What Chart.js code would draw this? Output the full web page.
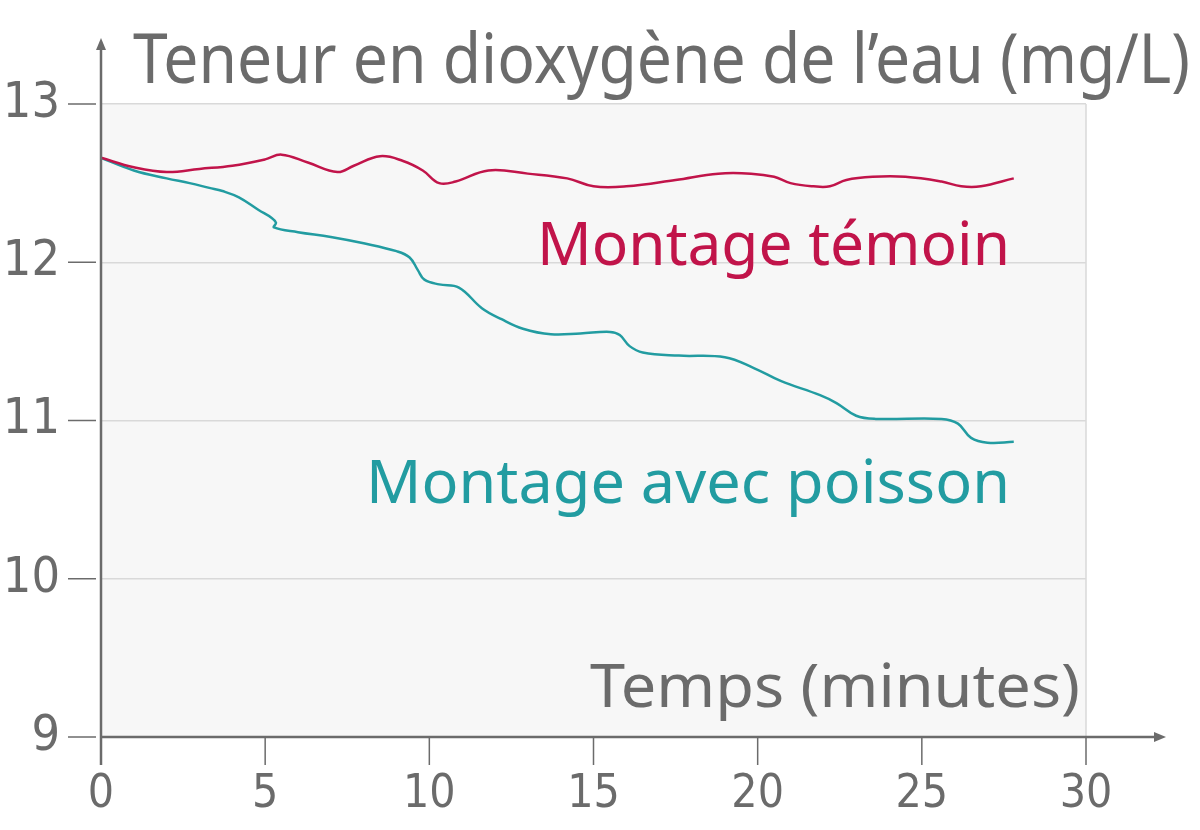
<!DOCTYPE html>
<html>
<head>
<meta charset="utf-8">
<script src="https://cdn.jsdelivr.net/npm/chart.js@4.4.1/dist/chart.umd.min.js"></script>
<style>
  html, body { margin: 0; padding: 0; background: #fff; }
  #wrap { width: 1200px; height: 830px; }
</style>
</head>
<body>
<div id="wrap"><canvas id="chart"></canvas></div>
<script>
// Values
const timeTemoin = [0, 1, 2, 3, 4, 5, 5.5, 6.3, 7.2, 7.7, 8.5, 9.2, 9.8, 10.3, 10.8, 11.8, 13, 14.2, 15, 16, 17.5, 18.8, 19.8, 20.5, 21, 21.7, 22.2, 22.7, 23.5, 24.5, 25.6, 26.2, 26.8, 27.8];
const o2Temoin = [12.66, 12.60, 12.57, 12.59, 12.61, 12.65, 12.68, 12.63, 12.57, 12.61, 12.67, 12.64, 12.58, 12.50, 12.51, 12.58, 12.56, 12.53, 12.48, 12.48, 12.52, 12.56, 12.56, 12.54, 12.50, 12.48, 12.48, 12.52, 12.54, 12.54, 12.51, 12.48, 12.48, 12.53];

const timePoisson = [0, 1, 2, 2.7, 3.3, 3.7, 4.2, 4.8, 5.2, 5.33, 5.27, 6, 7, 8, 9, 9.4, 9.65, 9.85, 10.3, 10.9, 11.6, 12.2, 12.85, 13.7, 14.6, 15.5, 15.8, 16.1, 16.5, 17.6, 19, 19.9, 20.7, 21.9, 22.4, 23, 23.6, 25.6, 26.1, 26.5, 27, 27.8];
const o2Poisson = [12.66, 12.58, 12.53, 12.50, 12.47, 12.45, 12.41, 12.33, 12.28, 12.25, 12.22, 12.19, 12.16, 12.12, 12.07, 12.03, 11.95, 11.89, 11.86, 11.84, 11.71, 11.64, 11.58, 11.545, 11.55, 11.56, 11.54, 11.47, 11.43, 11.41, 11.40, 11.33, 11.25, 11.16, 11.11, 11.03, 11.01, 11.01, 10.98, 10.89, 10.86, 10.865];

const xTicks = [0, 5, 10, 15, 20, 25, 30];
const yTicks = [9, 10, 11, 12, 13];

const yTitle = 'Teneur en dioxygène de l\u2019eau (mg/L)';
const xTitle = 'Temps (minutes)';
const labelTemoin = 'Montage témoin';
const labelPoisson = 'Montage avec poisson';

const RED = '#c1144a';
const TEAL = '#229ca1';
const GREY = '#6b6b6b';
const TEXT_FONT = '"Noto Sans", "Open Sans", sans-serif';
const TICK_FONT = '"DejaVu Sans Condensed", "Liberation Sans Narrow", sans-serif';

function toPoints(xs, ys) {
    return xs.map((x, i) => ({ x: x, y: ys[i] }));
}

// Draw text so that it spans left..right with the given baseline and font size
function fitText(ctx, text, left, right, baseline, size, color) {
    ctx.save();
    ctx.font = `${size}px ${TEXT_FONT}`;
    ctx.fillStyle = color;
    ctx.textBaseline = 'alphabetic';
    ctx.textAlign = 'left';
    const w = ctx.measureText(text).width;
    ctx.translate(left, baseline);
    ctx.scale((right - left) / w, 1);
    ctx.fillText(text, 0, 0);
    ctx.restore();
}

// Background, axes with arrows, tick marks and text labels
const decorPlugin = {
    id: 'decor',
    beforeDraw(chart) {
        const { ctx, chartArea: a } = chart;
        ctx.save();
        ctx.fillStyle = '#f7f7f7';
        ctx.fillRect(a.left, a.top, a.right - a.left, a.bottom - a.top);
        ctx.strokeStyle = '#d9d9d9';
        ctx.lineWidth = 1.5;
        ctx.beginPath();
        ctx.moveTo(a.right, a.top);
        ctx.lineTo(a.right, a.bottom);
        ctx.stroke();
        ctx.restore();
    },
    afterDatasetsDraw(chart) {
        const { ctx, chartArea: a, scales } = chart;
        const xs = scales.x, ys = scales.y;
        ctx.save();
        ctx.strokeStyle = GREY;
        ctx.fillStyle = GREY;
        ctx.lineWidth = 2.5;

        // y axis with arrow
        ctx.beginPath();
        ctx.moveTo(a.left, a.bottom + 28);
        ctx.lineTo(a.left, 46);
        ctx.stroke();
        ctx.beginPath();
        ctx.moveTo(a.left, 38);
        ctx.lineTo(a.left - 5, 50);
        ctx.lineTo(a.left + 5, 50);
        ctx.closePath();
        ctx.fill();

        // x axis with arrow
        ctx.beginPath();
        ctx.moveTo(a.left, a.bottom);
        ctx.lineTo(1158, a.bottom);
        ctx.stroke();
        ctx.beginPath();
        ctx.moveTo(1166, a.bottom);
        ctx.lineTo(1154, a.bottom - 5);
        ctx.lineTo(1154, a.bottom + 5);
        ctx.closePath();
        ctx.fill();

        // tick marks
        ctx.lineWidth = 1.5;
        yTicks.forEach(v => {
            const py = ys.getPixelForValue(v);
            ctx.beginPath();
            ctx.moveTo(68, py);
            ctx.lineTo(96, py);
            ctx.stroke();
        });
        xTicks.forEach(v => {
            const px = xs.getPixelForValue(v);
            ctx.beginPath();
            ctx.moveTo(px, a.bottom);
            ctx.lineTo(px, a.bottom + 28);
            ctx.stroke();
        });
        ctx.restore();

        fitText(ctx, yTitle, 133, 1190, 83, 70, GREY);
        fitText(ctx, xTitle, 590, 1080, 707, 60, GREY);
        fitText(ctx, labelTemoin, 537, 1010, 265, 60, RED);
        fitText(ctx, labelPoisson, 366, 1010, 503, 60, TEAL);
    }
};

new Chart(document.getElementById('chart'), {
    type: 'scatter',
    data: {
        datasets: [
            {
                label: labelTemoin,
                data: toPoints(timeTemoin, o2Temoin),
                showLine: true,
                borderColor: RED,
                borderWidth: 2.5,
                pointRadius: 0,
                tension: 0.4
            },
            {
                label: labelPoisson,
                data: toPoints(timePoisson, o2Poisson),
                showLine: true,
                borderColor: TEAL,
                borderWidth: 2.5,
                pointRadius: 0,
                tension: 0.4
            }
        ]
    },
    options: {
        responsive: true,
        maintainAspectRatio: false,
        animation: false,
        layout: { padding: { top: 104, right: 114, left: 0, bottom: 0 } },
        plugins: {
            legend: { display: false },
            tooltip: { enabled: false }
        },
        scales: {
            x: {
                type: 'linear',
                min: 0,
                max: 30,
                afterFit: scale => { scale.height = 93; },
                afterBuildTicks: scale => { scale.ticks = xTicks.map(v => ({ value: v })); },
                grid: { display: false, drawTicks: false },
                border: { display: false },
                ticks: {
                    padding: 30,
                    color: GREY,
                    font: { family: TICK_FONT, size: 46 }
                }
            },
            y: {
                min: 9,
                max: 13,
                afterFit: scale => { scale.width = 101; },
                afterBuildTicks: scale => { scale.ticks = yTicks.map(v => ({ value: v })); },
                grid: {
                    drawTicks: false,
                    color: ctx => ctx.tick && ctx.tick.value === 9 ? 'rgba(0,0,0,0)' : '#d9d9d9',
                    lineWidth: 1.5
                },
                border: { display: false },
                ticks: {
                    padding: 41,
                    color: GREY,
                    font: { family: TICK_FONT, size: 50 }
                }
            }
        }
    },
    plugins: [decorPlugin]
});
</script>
</body>
</html>
